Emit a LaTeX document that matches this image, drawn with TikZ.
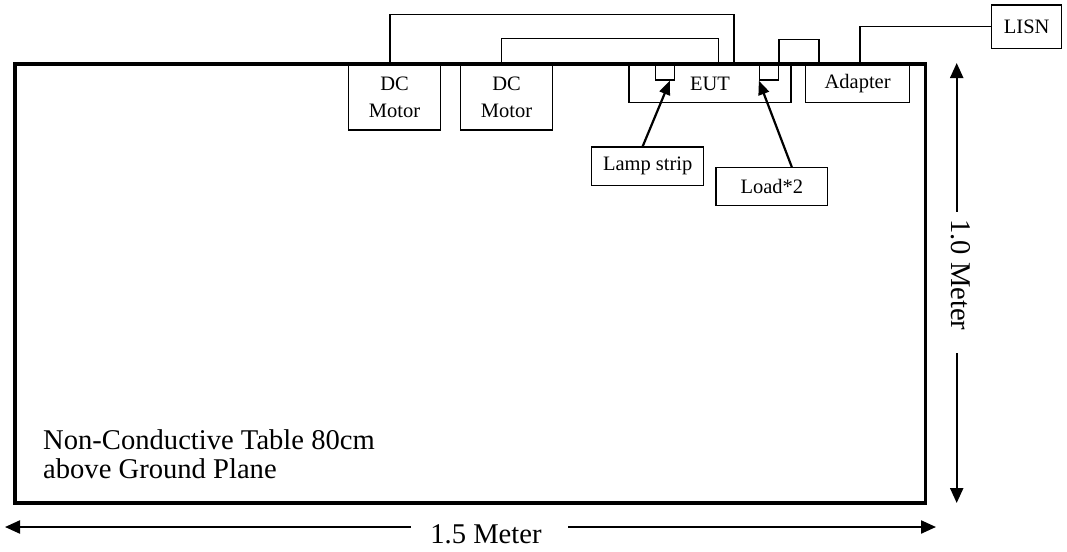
\documentclass[tikz,border=0pt]{standalone}
\usepackage{fontspec}
\setmainfont{Liberation Serif}
\usetikzlibrary{arrows.meta}
\begin{document}
\begin{tikzpicture}[x=1pt,y=-1pt,
  tablebox/.style={draw,line width=3.3pt,inner sep=0pt},
  unit/.style={draw,line width=1.3pt,inner sep=0pt,align=center,
    font=\fontsize{20.5}{27}\selectfont},
  port/.style={draw,line width=1.3pt,inner sep=0pt},
  wire/.style={line width=1.3pt},
  pointer/.style={line width=2.2pt,-{Triangle[length=14pt,width=11pt]}},
  dimarrow/.style={line width=2.2pt,-{Triangle[length=15pt,width=13pt]}},
  biglabel/.style={font=\fontsize{28.6}{29}\selectfont,inner sep=0pt}]
\useasboundingbox (0,0) rectangle (1067,551);
% table
\node[tablebox,minimum width=910.5pt,minimum height=439pt] (table) at (470.25,283.5) {};
\node[biglabel,align=left,anchor=north west] (tabletext) at (43,429.5)
  {Non-Conductive Table 80cm\\above Ground Plane};
% units
\node[unit,minimum width=92.4pt,minimum height=66pt] (m1) at (394.5,97) {DC\\Motor};
\node[unit,minimum width=91.6pt,minimum height=66pt] (m2) at (506.5,97) {DC\\Motor};
\node[unit,minimum width=162pt,minimum height=38.7pt] (eut) at (710,83.4) {EUT};
\node[port,minimum width=19pt,minimum height=16pt] (p1) at (665,72) {};
\node[port,minimum width=18.8pt,minimum height=16pt] (p2) at (768.9,72) {};
\node[unit,minimum width=103.8pt,minimum height=38.7pt] (adapter) at (857.6,83.4) {Adapter};
\node[unit,minimum width=70pt,minimum height=43.3pt] (lisn) at (1026.7,26.7) {LISN};
\node[unit,minimum width=112pt,minimum height=38.5pt] (lamp) at (647.7,166.2) {Lamp strip};
\node[unit,minimum width=111.7pt,minimum height=37.8pt] (load) at (771.8,186.6) {Load*2};
% wires
\draw[wire] ([xshift=-4.5pt]m1.north) -- ++(0,-49) -| ([xshift=24pt]eut.north);
\draw[wire] ([xshift=-4.8pt]m2.north) -- ++(0,-24.7) -| ([xshift=8.3pt]eut.north);
\coordinate (loopend) at (819,64);
\draw[wire] (p2.north east) -- ++(0,-24) -| (loopend);
\draw[wire] ([xshift=2.4pt]adapter.north) |- (lisn.west);
% pointers
\draw[pointer] ([xshift=-5pt]lamp.north) -- ([xshift=5pt]p1.south);
\draw[pointer] ([xshift=20pt]load.north) -- (p2.south west);
% dimensions
\node[biglabel,anchor=base] (hlabel) at (486,543) {1.5 Meter};
\coordinate (hl) at (5,527);
\coordinate (hr) at (936,527);
\coordinate (hgl) at (410.7,527);
\coordinate (hgr) at (568,527);
\draw[dimarrow] (hgl) -- (hl);
\draw[dimarrow] (hgr) -- (hr);
\node[biglabel,rotate=-90] (vlabel) at (960.5,274.8) {1.0 Meter};
\coordinate (vt) at (956.7,63);
\coordinate (vb) at (956.7,503);
\coordinate (vgt) at (956.7,211.7);
\coordinate (vgb) at (956.7,353);
\draw[dimarrow] (vgt) -- (vt);
\draw[dimarrow] (vgb) -- (vb);
\end{tikzpicture}
\end{document}
